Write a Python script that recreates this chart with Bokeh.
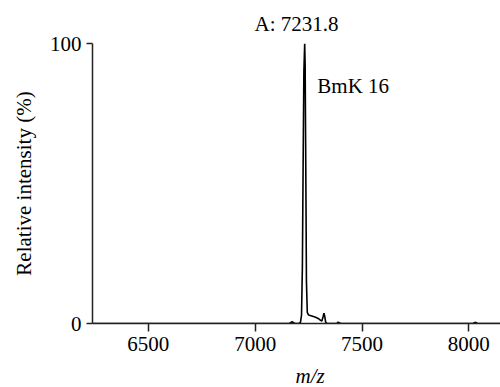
from bokeh.plotting import figure
from bokeh.models import Range1d, Label, FixedTicker, Title
from bokeh.embed import file_html
from bokeh.resources import INLINE

# Spectrum data (m/z vs relative intensity, %)
mz = [6239, 7160, 7168, 7173, 7178, 7186, 7205, 7212, 7217, 7221, 7225, 7228,
      7231.8, 7234, 7237, 7240, 7244, 7250, 7265, 7280, 7295, 7305, 7312, 7318,
      7322, 7326, 7330, 7336, 7360, 7383, 7388, 7393, 7400, 8020, 8026, 8032,
      8040, 8148]
intensity = [0, 0, 0.4, 0.7, 0.4, 0, 0, 0.4, 3, 20, 62, 90,
             100, 92, 55, 15, 4, 3, 2.7, 2.3, 1.8, 1.2, 0.9, 2.4,
             3.7, 2.4, 0.5, 0, 0, 0, 0.5, 0.3, 0, 0, 0.3, 0.4,
             0, 0]
x_ticks = [6500, 7000, 7500, 8000]
y_ticks = [0, 100]
peak_label = "A: 7231.8"
compound_label = "BmK 16"
x_title = "m/z"
y_title = "Relative intensity (%)"

FONT = "Liberation Serif"

p = figure(frame_width=408, frame_height=280, output_backend="svg",
           toolbar_location=None,
           x_range=Range1d(6239, 8148), y_range=Range1d(0, 100),
           min_border_left=92, min_border_right=0, min_border_top=43,
           min_border_bottom=64)
p.outline_line_color = None
p.xgrid.visible = False
p.ygrid.visible = False
p.background_fill_color = "white"
p.border_fill_color = "white"

p.line(mz, intensity, line_color="black", line_width=1.6)

for ax, ticks, tout in ((p.xaxis[0], x_ticks, 8), (p.yaxis[0], y_ticks, 6)):
    ax.ticker = FixedTicker(ticks=ticks)
    ax.minor_tick_line_color = None
    ax.major_tick_in = 0
    ax.major_tick_out = tout
    ax.axis_line_color = "#222222"
    ax.axis_line_width = 1.5
    ax.major_tick_line_color = "#222222"
    ax.major_tick_line_width = 1.5
    ax.major_label_text_font = FONT
    ax.major_label_text_font_size = "21px"
    ax.major_label_text_color = "black"
    ax.major_label_standoff = 5

p.yaxis.axis_label = y_title
p.yaxis.axis_label_text_font = FONT
p.yaxis.axis_label_text_font_size = "21px"
p.yaxis.axis_label_text_font_style = "normal"
p.yaxis.axis_label_text_color = "black"
p.yaxis.axis_label_standoff = 11

common = dict(text_font=FONT, text_color="black")
p.add_layout(Label(x=7291, y=85, text=compound_label, text_align="left",
                   text_baseline="middle", text_font_size="21px", **common))

p.add_layout(Title(text=peak_label, align="center", standoff=15,
                   text_font_size="21px", text_font_style="normal",
                   **common), "above")
p.add_layout(Title(text=x_title, align="left", offset=203, standoff=17,
                   text_font_size="21px", text_font_style="italic",
                   **common), "below")

open("out.html", "w").write(file_html(p, INLINE))
